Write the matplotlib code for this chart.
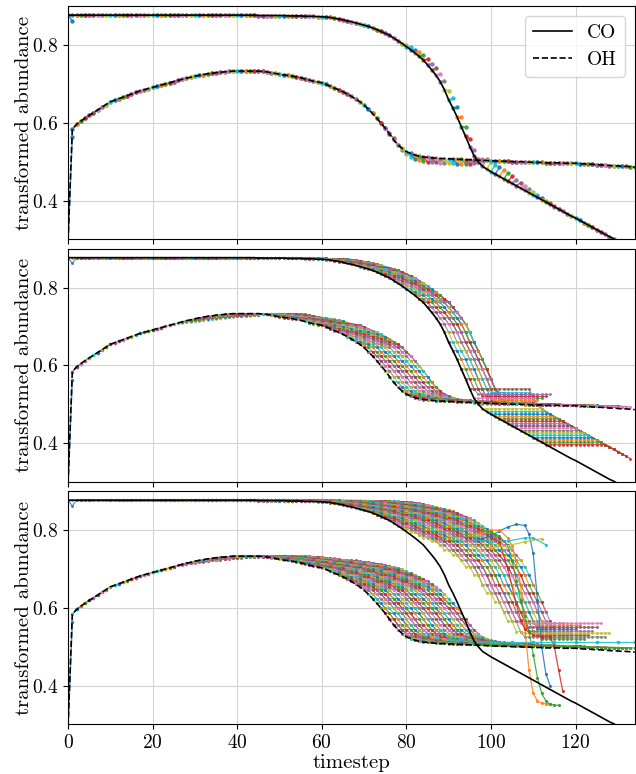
import matplotlib
matplotlib.use('Agg')
import matplotlib.pyplot as plt

plt.rcParams['font.family'] = 'cmr10'
plt.rcParams['mathtext.fontset'] = 'cm'
plt.rcParams['axes.formatter.use_mathtext'] = True

# true abundances, one value per timestep
co = [0.877, 0.877, 0.877, 0.877, 0.877, 0.877, 0.877, 0.877, 0.877, 0.877,
      0.877, 0.877, 0.877, 0.877, 0.877, 0.877, 0.877, 0.877, 0.877, 0.877,
      0.877, 0.877, 0.877, 0.877, 0.877, 0.877, 0.877, 0.877, 0.877, 0.877,
      0.877, 0.877, 0.877, 0.877, 0.877, 0.877, 0.877, 0.877, 0.877, 0.877,
      0.877, 0.877, 0.877, 0.877, 0.877, 0.876, 0.876, 0.876, 0.876, 0.876,
      0.876, 0.876, 0.875, 0.875, 0.875, 0.875, 0.874, 0.874, 0.874, 0.873,
      0.873, 0.872, 0.871, 0.869, 0.867, 0.865, 0.862, 0.860, 0.857, 0.854,
      0.851, 0.848, 0.844, 0.840, 0.835, 0.830, 0.825, 0.818, 0.811, 0.804,
      0.796, 0.788, 0.780, 0.771, 0.762, 0.749, 0.736, 0.722, 0.706, 0.685,
      0.659, 0.638, 0.615, 0.590, 0.565, 0.539, 0.515, 0.500, 0.488, 0.481,
      0.474, 0.468, 0.462, 0.456, 0.450, 0.444, 0.438, 0.432, 0.426, 0.420,
      0.414, 0.408, 0.402, 0.396, 0.390, 0.384, 0.378, 0.372, 0.366, 0.360,
      0.355, 0.349, 0.343, 0.337, 0.331, 0.325, 0.319, 0.313, 0.307, 0.302,
      0.296, 0.290]

oh = [0.295, 0.583, 0.596, 0.604, 0.612, 0.619, 0.626, 0.633, 0.640, 0.647,
      0.654, 0.658, 0.662, 0.666, 0.670, 0.674, 0.678, 0.682, 0.685, 0.688,
      0.691, 0.694, 0.697, 0.700, 0.703, 0.706, 0.709, 0.712, 0.715, 0.717,
      0.720, 0.722, 0.724, 0.726, 0.727, 0.729, 0.730, 0.731, 0.732, 0.733,
      0.733, 0.733, 0.733, 0.733, 0.733, 0.733, 0.732, 0.731, 0.729, 0.727,
      0.725, 0.723, 0.722, 0.720, 0.718, 0.716, 0.713, 0.710, 0.707, 0.705,
      0.703, 0.699, 0.694, 0.689, 0.685, 0.680, 0.674, 0.668, 0.661, 0.654,
      0.646, 0.635, 0.624, 0.612, 0.599, 0.586, 0.571, 0.556, 0.544, 0.534,
      0.526, 0.521, 0.517, 0.514, 0.512, 0.511, 0.510, 0.509, 0.508, 0.508,
      0.507, 0.507, 0.506, 0.506, 0.505, 0.505, 0.504, 0.504, 0.503, 0.503,
      0.502, 0.502, 0.501, 0.501, 0.501, 0.500, 0.500, 0.500, 0.499, 0.499,
      0.498, 0.498, 0.498, 0.497, 0.497, 0.497, 0.497, 0.496, 0.496, 0.496,
      0.496, 0.495, 0.494, 0.494, 0.493, 0.492, 0.492, 0.491, 0.490, 0.490,
      0.489, 0.488, 0.488, 0.487, 0.486]

# one-step prediction errors (panel 1)
co_err_from = 80
co_err = [0.004, 0.006, 0.008, 0.010, 0.012, 0.014, 0.016, 0.018, 0.020, 0.022,
          0.024, 0.025, 0.025, 0.025, 0.024, 0.020, 0.014, 0.006, 0.020, 0.025,
          0.025, 0.024, 0.023, 0.022, 0.020, 0.018, 0.016, 0.014, 0.012, 0.010,
          0.008, 0.006, 0.005, 0.004, 0.003, 0.002, 0.001, 0.0]
oh_err_from = 76
oh_err = [0.004, 0.004, 0.0, -0.004, -0.006, -0.008, -0.010, -0.011, -0.011,
          -0.011, -0.011, -0.011, -0.011, -0.011, -0.011, -0.011, -0.011,
          -0.011, -0.011, -0.010, -0.008, -0.005, -0.002]
first_err = {'co': -0.015, 'oh': -0.02}

# delay (in steps) of a rolled-out prediction after k steps
lag2_co = [0, 0, 1, 1, 2, 2, 3, 3, 3, 4, 4, 4, 5, 5, 5, 5, 6, 6, 6, 6, 6]
lag2_fan = [0, 1, 2, 3, 4, 5, 6, 7, 8, 9, 10, 11, 12, 13, 14, 14, 14, 14, 14, 14, 14]
lag2_oh = [0, 0, 1, 1, 2, 2, 3, 3, 4, 4, 5, 5, 6, 6, 7, 7, 8, 8, 9, 9, 9]
lag3_co = [0, 0, 1, 1, 2, 2, 2, 3, 3, 4, 4, 4, 5, 5, 6, 6, 6, 7, 7, 8,
           8, 8, 9, 9, 10, 10, 10, 11, 11, 12, 12, 12, 13, 13, 14, 14, 14,
           15, 15, 16, 16, 16, 17, 17, 18, 18, 18, 19, 19, 20, 20]
lag3_oh = [0, 0, 1, 1, 1, 2, 2, 3, 3, 3, 4, 4, 4, 5, 5, 5, 6, 6, 6, 7,
           7, 8, 8, 8, 9, 9, 9, 10, 10, 10, 11, 11, 12, 12, 12, 13, 13, 13,
           14, 14, 14, 15, 15, 16, 16, 16, 17, 17, 17, 18, 18]
# level where rolled-out CO levels off
co_floor2 = [0.505, 0.51, 0.515, 0.52, 0.525, 0.53]
co_floor3 = [0.52, 0.53, 0.54, 0.55, 0.56, 0.525, 0.535, 0.545, 0.555]
fan_start2 = 95
first_oh_start = 25
last_start2 = 113
last_start3_co = 78
last_start3_oh = 84

# long rollouts that break away (panel 3)
div_t = {
    'C0': [96, 98, 100, 102, 104, 106, 108, 109, 110, 111, 112, 113, 114],
    'C1': [96, 98, 100, 102, 104, 105, 106, 107, 108, 109, 110, 111, 112, 113, 114],
    'C2': [98, 100, 102, 104, 105, 106, 107, 108, 109, 110, 111, 112, 113, 114, 115, 116],
    'C3': [100, 102, 104, 106, 107, 108, 110, 112, 114, 115, 116, 117],
    'C8': [96, 100, 104, 108, 112],
    'C9': [96, 100, 104, 108, 110, 113],
}
div_v = {
    'C0': [0.775, 0.778, 0.785, 0.798, 0.808, 0.815, 0.812, 0.79, 0.74, 0.62, 0.50, 0.43, 0.40],
    'C1': [0.79, 0.795, 0.80, 0.80, 0.78, 0.76, 0.72, 0.66, 0.55, 0.44, 0.38, 0.36, 0.355, 0.353, 0.352],
    'C2': [0.80, 0.795, 0.785, 0.76, 0.72, 0.67, 0.62, 0.58, 0.54, 0.48, 0.42, 0.38, 0.36, 0.352, 0.35, 0.349],
    'C3': [0.78, 0.77, 0.70, 0.61, 0.57, 0.545, 0.53, 0.525, 0.525, 0.50, 0.44, 0.385],
    'C8': [0.76, 0.755, 0.76, 0.77, 0.778],
    'C9': [0.775, 0.77, 0.772, 0.78, 0.78, 0.762],
}
flat_t = [90, 95, 100, 105, 110, 115, 120, 125, 130, 134]
flat_v = [0.52, 0.513, 0.512, 0.511, 0.511, 0.511, 0.511, 0.511, 0.511, 0.511]


def one_step(ax, name, truth, err, start, stop, ms):
    for t in range(stop):
        nxt = truth[t + 1]
        if t + 1 == 1:
            nxt = nxt + first_err[name]
        if start <= t + 1 < start + len(err):
            nxt = nxt + err[t + 1 - start]
        kw = {'color': 'C0'} if t == 0 else {}
        ax.plot([t, t + 1], [truth[t], nxt], '-o', lw=1, ms=ms, alpha=0.85, **kw)


def rollouts(ax, truth, lag, starts, floors=None):
    for t0 in starts:
        xs = []
        ys = []
        for k in range(len(lag)):
            v = truth[t0 + k - lag[k]]
            if k == 1 and t0 == 0 and truth is co:
                v = v + first_err['co']
            if floors is not None:
                v = max(v, floors[t0 % len(floors)])
            xs.append(t0 + k)
            ys.append(v)
        ax.plot(xs, ys, '-o', lw=0.9, ms=1.2, alpha=0.75)


fig, axes = plt.subplots(3, 1, sharex=True, figsize=(6.36, 7.74), dpi=100)
fig.subplots_adjust(left=0.107, right=0.998, top=0.992, bottom=0.064, hspace=0.04)

# panel 1: one-step predictions
one_step(axes[0], 'co', co, co_err, co_err_from, len(co) - 1, 2.2)
one_step(axes[0], 'oh', oh, oh_err, oh_err_from, len(oh) - 1, 2.2)

# panel 2: short rollouts
rollouts(axes[1], co, lag2_co, range(fan_start2), co_floor2)
rollouts(axes[1], co, lag2_fan, range(fan_start2, last_start2 + 1))
one_step(axes[1], 'oh', oh, oh_err, oh_err_from, first_oh_start, 1.5)
rollouts(axes[1], oh, lag2_oh, range(first_oh_start, last_start2 + 1))

# panel 3: long rollouts
rollouts(axes[2], co, lag3_co, range(last_start3_co + 1), co_floor3)
one_step(axes[2], 'oh', oh, oh_err, oh_err_from, first_oh_start, 1.5)
rollouts(axes[2], oh, lag3_oh, range(first_oh_start, last_start3_oh + 1))
for c in div_t:
    axes[2].plot(div_t[c], div_v[c], '-o', color=c, lw=0.9, ms=1.3, alpha=0.85)
axes[2].plot(flat_t, flat_v, '-s', color='C9', lw=0.9, ms=2, alpha=0.85)

for ax in axes:
    ax.plot(range(len(co)), co, color='black', lw=1.2, label='CO', zorder=5)
    ax.plot(range(len(oh)), oh, color='black', ls='--', lw=1.2, label='OH', zorder=5)
    ax.set_xlim(0, 134)
    ax.set_ylim(0.3, 0.9)
    ax.set_yticks([0.4, 0.6, 0.8])
    ax.grid(True, color='#d3d3d3', lw=0.8)
    ax.set_ylabel('transformed abundance', fontsize=15)
    ax.yaxis.set_label_coords(-0.062, 0.5)
    ax.tick_params(labelsize=14)

axes[0].legend(loc='upper right', fontsize=14)
axes[2].set_xticks([0, 20, 40, 60, 80, 100, 120])
axes[2].set_xlabel('timestep', fontsize=15, labelpad=1)

plt.savefig('out.png')
